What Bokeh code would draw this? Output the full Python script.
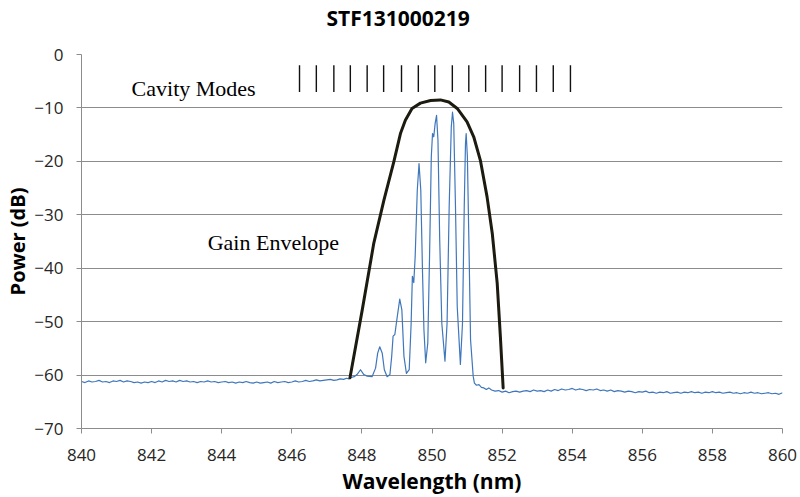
from bokeh.plotting import figure
from bokeh.models import Range1d, FixedTicker, Title, Label
from bokeh.embed import file_html
from bokeh.resources import INLINE

# ---------------- data ----------------
title_text = "STF131000219"
x_label = "Wavelength (nm)"
y_label = "Power (dB)"
x_ticks = [840, 842, 844, 846, 848, 850, 852, 854, 856, 858, 860]
y_ticks = [-70, -60, -50, -40, -30, -20, -10, 0]

# measured spectrum: left baseline
spec_left_x = [840.0, 840.1, 840.2, 840.3, 840.4, 840.5, 840.6, 840.7, 840.8, 840.9,
               841.0, 841.1, 841.2, 841.3, 841.4, 841.5, 841.6, 841.7, 841.8, 841.9,
               842.0, 842.1, 842.2, 842.3, 842.4, 842.5, 842.6, 842.7, 842.8, 842.9,
               843.0, 843.1, 843.2, 843.3, 843.4, 843.5, 843.6, 843.7, 843.8, 843.9,
               844.0, 844.1, 844.2, 844.3, 844.4, 844.5, 844.6, 844.7, 844.8, 844.9,
               845.0, 845.1, 845.2, 845.3, 845.4, 845.5, 845.6, 845.7, 845.8, 845.9,
               846.0, 846.1, 846.2, 846.3, 846.4, 846.5, 846.6, 846.7, 846.8, 846.9,
               847.0]
spec_left_y = [-61.2, -61.4, -61.1, -61.3, -61.2, -61.0, -61.3, -61.2, -61.4, -61.1,
               -61.2, -61.0, -61.3, -61.1, -61.2, -61.4, -61.3, -61.5, -61.3, -61.4,
               -61.2, -61.4, -61.1, -61.3, -61.0, -61.2, -61.1, -61.3, -61.0, -61.2,
               -61.1, -61.3, -61.2, -61.4, -61.2, -61.3, -61.1, -61.3, -61.2, -61.4,
               -61.3, -61.2, -61.4, -61.3, -61.5, -61.3, -61.4, -61.2, -61.4, -61.5,
               -61.3, -61.5, -61.4, -61.3, -61.5, -61.2, -61.4, -61.3, -61.2, -61.4,
               -61.3, -61.1, -61.3, -61.2, -61.0, -61.2, -61.1, -60.9, -61.1, -61.0,
               -60.9]
# measured spectrum: lasing region
spec_mid_x = [847.10, 847.20, 847.29, 847.38, 847.48, 847.56, 847.63, 847.67, 847.78, 847.86,
              847.96, 848.055, 848.15, 848.29, 848.39, 848.45, 848.51, 848.58, 848.64, 848.72,
              848.80, 848.85, 848.89, 848.94, 849.01, 849.08, 849.14, 849.20, 849.27, 849.35,
              849.405, 849.44, 849.48, 849.52, 849.58, 849.63, 849.68, 849.73, 849.77, 849.82,
              849.88, 849.93, 849.98, 850.015, 850.05, 850.09, 850.13, 850.17, 850.22, 850.28,
              850.37, 850.43, 850.49, 850.55, 850.585, 850.62, 850.67, 850.72, 850.81, 850.87,
              850.92, 850.955, 850.975, 851.01, 851.06, 851.10, 851.175, 851.21, 851.27, 851.34,
              851.41, 851.48, 851.55, 851.62]
spec_mid_y = [-60.8, -61.0, -60.9, -60.7, -60.8, -60.6, -60.7, -60.5, -60.3, -59.9,
              -59.0, -59.9, -60.2, -60.3, -58.7, -55.9, -54.7, -55.9, -59.0, -60.3,
              -59.9, -56.5, -52.7, -52.4, -49.0, -45.8, -47.8, -56.5, -59.7, -59.0,
              -50.3, -41.5, -42.7, -37.8, -25.4, -20.4, -25.4, -40.9, -51.5, -57.7,
              -54.0, -37.8, -19.2, -14.8, -15.4, -12.9, -11.4, -16.0, -34.7, -50.3,
              -57.4, -50.3, -28.5, -13.6, -10.8, -12.9, -28.5, -47.2, -58.0, -50.3,
              -28.5, -16.7, -14.8, -19.2, -37.8, -53.4, -60.2, -61.5, -61.9, -61.8,
              -62.3, -62.4, -62.7, -62.4]
# measured spectrum: right baseline
spec_right_x = [851.7, 851.8, 851.9, 852.0, 852.1, 852.2, 852.3, 852.4, 852.5, 852.6,
                852.7, 852.8, 852.9, 853.0, 853.1, 853.2, 853.3, 853.4, 853.5, 853.6,
                853.7, 853.8, 853.9, 854.0, 854.1, 854.2, 854.3, 854.4, 854.5, 854.6,
                854.7, 854.8, 854.9, 855.0, 855.1, 855.2, 855.3, 855.4, 855.5, 855.6,
                855.7, 855.8, 855.9, 856.0, 856.1, 856.2, 856.3, 856.4, 856.5, 856.6,
                856.7, 856.8, 856.9, 857.0, 857.1, 857.2, 857.3, 857.4, 857.5, 857.6,
                857.7, 857.8, 857.9, 858.0, 858.1, 858.2, 858.3, 858.4, 858.5, 858.6,
                858.7, 858.8, 858.9, 859.0, 859.1, 859.2, 859.3, 859.4, 859.5, 859.6,
                859.7, 859.8, 859.9, 860.0]
spec_right_y = [-62.8, -63.0, -62.9, -63.2, -63.0, -63.3, -63.1, -63.0, -63.2, -63.0,
                -62.9, -63.1, -62.8, -63.0, -62.9, -63.1, -62.8, -63.0, -62.7, -62.9,
                -62.6, -62.8, -62.7, -62.5, -62.8, -62.6, -62.7, -62.9, -62.7, -62.8,
                -62.6, -62.9, -62.8, -63.0, -62.8, -63.1, -62.9, -63.0, -63.2, -63.0,
                -63.1, -63.3, -63.1, -63.2, -63.0, -63.3, -63.2, -63.4, -63.2, -63.3,
                -63.1, -63.4, -63.3, -63.2, -63.4, -63.2, -63.3, -63.1, -63.3, -63.2,
                -63.4, -63.2, -63.3, -63.1, -63.3, -63.2, -63.4, -63.3, -63.2, -63.4,
                -63.3, -63.5, -63.3, -63.4, -63.2, -63.4, -63.3, -63.5, -63.4, -63.3,
                -63.5, -63.4, -63.6, -63.3]

# gain envelope (drawn curve)
env_x = [847.66, 848.01, 848.34, 848.63, 848.91, 849.10, 849.24, 849.43, 849.67, 849.96,
         850.24, 850.48, 850.72, 851.00, 851.19, 851.38, 851.57, 851.72, 851.86, 851.95, 852.03]
env_y = [-60.5, -47.8, -35.3, -27.2, -20.1, -14.8, -12.3, -10.1, -9.1, -8.6,
         -8.5, -8.9, -10.1, -12.6, -15.4, -19.8, -26.6, -33.5, -42.8, -52.7, -62.4]

# cavity mode markers
mode_x = [846.22, 846.70, 847.20, 847.67, 848.15, 848.62, 849.13, 849.61, 850.08,
          850.58, 851.05, 851.53, 852.00, 852.50, 852.98, 853.46, 853.95]
mode_top = -2.0
mode_bottom = -7.0

# annotation labels
ann_text = ["Cavity Modes", "Gain Envelope"]
ann_x = [841.43, 843.6]
ann_y = [-6.4, -35.1]

# ---------------- plot ----------------
spec_x = spec_left_x + spec_mid_x + spec_right_x
spec_y = spec_left_y + spec_mid_y + spec_right_y

p = figure(width=800, height=497, output_backend="svg", toolbar_location=None, title=None,
           x_range=Range1d(840, 860), y_range=Range1d(-70, 0),
           min_border_left=81, min_border_right=18, min_border_top=54, min_border_bottom=68)
p.outline_line_color = None
p.background_fill_color = "white"
p.border_fill_color = "white"

GRAY = "#8c8c8c"
p.xgrid.grid_line_color = None
p.ygrid.grid_line_color = GRAY
p.ygrid.grid_line_width = 1
p.ygrid.ticker = FixedTicker(ticks=y_ticks)

for ax in (p.xaxis[0], p.yaxis[0]):
    ax.axis_line_color = GRAY
    ax.major_tick_line_color = GRAY
    ax.major_tick_out = 5
    ax.major_tick_in = 0
    ax.minor_tick_line_color = None
    ax.major_label_text_font = "Open Sans"
    ax.major_label_text_font_size = "17px"
    ax.major_label_text_color = "#262626"
    ax.axis_label_text_font = "Open Sans"
    ax.axis_label_text_font_style = "bold"
    ax.axis_label_text_color = "#000000"

p.xaxis[0].ticker = FixedTicker(ticks=x_ticks)
p.yaxis[0].ticker = FixedTicker(ticks=y_ticks)
p.xaxis[0].axis_label = x_label
p.yaxis[0].axis_label = y_label
p.xaxis[0].axis_label_text_font_size = "21px"
p.yaxis[0].axis_label_text_font_size = "20px"
p.xaxis[0].major_label_standoff = 15
p.xaxis[0].axis_label_standoff = 3
p.yaxis[0].major_label_standoff = 13
p.yaxis[0].axis_label_standoff = 0

# blank spacer title next to the frame, then the real title above it
p.add_layout(Title(text=" ", text_font="Open Sans", text_font_size="12px", standoff=4), "above")
p.add_layout(Title(text=title_text, align="left", offset=245, text_font="Open Sans",
                   text_font_size="21px", text_font_style="bold", text_color="#000000",
                   standoff=0), "above")

p.line(spec_x, spec_y, line_color="#3f77bc", line_width=1.2, line_join="round")
p.line(env_x, env_y, line_color="#1d1b10", line_width=3, line_join="round", line_cap="round")
p.segment(x0=mode_x, y0=[mode_top] * len(mode_x), x1=mode_x, y1=[mode_bottom] * len(mode_x),
          line_color="#111111", line_width=1.4)

for t, xx, yy in zip(ann_text, ann_x, ann_y):
    p.add_layout(Label(x=xx, y=yy, text=t, text_font="Liberation Serif", text_font_size="22px",
                       text_color="#000000", text_align="left", text_baseline="alphabetic"))

open("out.html", "w").write(file_html(p, INLINE))
